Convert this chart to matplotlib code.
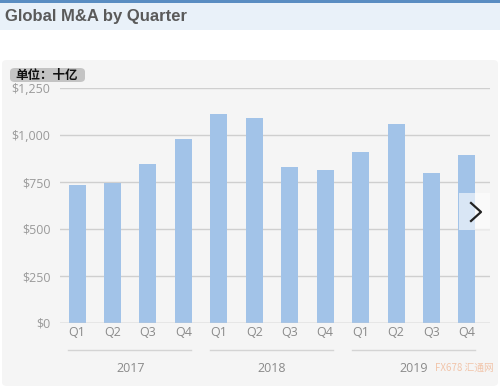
import matplotlib
matplotlib.use("Agg")
import matplotlib.pyplot as plt
from matplotlib.patches import Rectangle, FancyBboxPatch
from matplotlib.lines import Line2D

years = ["2017", "2018", "2019"]
quarters = ["Q1", "Q2", "Q3", "Q4"]
values = [734, 745, 846, 979, 1112, 1090, 830, 814, 910, 1059, 798, 894]
yticks = [0, 250, 500, 750, 1000, 1250]
ytick_labels = ["$0", "$250", "$500", "$750", "$1,000", "$1,250"]
title = "Global M&A by Quarter"
unit = "单位：十亿"

plt.rcParams['font.family'] = ['Open Sans', 'Noto Sans CJK SC', 'DejaVu Sans']

W, H = 500, 386
fig = plt.figure(figsize=(W / 100, H / 100), dpi=100)
fig.patch.set_facecolor("white")

def fx(px):
    return px / W

def fy(py):
    return 1 - py / H

# title band
fig.patches.append(Rectangle((0, fy(30)), 1, 30 / H, transform=fig.transFigure,
                             facecolor="#e9f1f9", edgecolor="none", zorder=-2))
fig.patches.append(Rectangle((0, fy(3)), 1, 3 / H, transform=fig.transFigure,
                             facecolor="#5a8dc2", edgecolor="none", zorder=-1))
fig.text(fx(5), fy(17), title, fontsize=12, fontweight="bold", color="#5a5a5a",
         family=["Liberation Sans", "DejaVu Sans"], va="center", ha="left")

# panel
fig.patches.append(FancyBboxPatch((fx(2), 0), 1 - fx(4), fy(60), boxstyle="round,pad=0,rounding_size=0.01",
                                  transform=fig.transFigure, facecolor="#f5f5f5",
                                  edgecolor="none", zorder=-2))

# unit label
fig.patches.append(FancyBboxPatch((fx(10), fy(82)), fx(75), 14 / H,
                                  boxstyle="round,pad=0,rounding_size=0.01",
                                  transform=fig.transFigure, facecolor="#c4c4c4",
                                  edgecolor="none", zorder=2))
fig.text(fx(15), fy(75), unit, fontsize=9, fontweight="bold", color="#111111",
         family=["Noto Sans CJK SC", "DejaVu Sans"], va="center", ha="left", zorder=3)

ax = fig.add_axes([fx(60), fy(323), fx(490) - fx(60), fy(88) - fy(323)])
ax.set_zorder(1)
ax.patch.set_visible(False)
x = list(range(len(values)))
ax.bar(x, values, width=0.48, color="#a2c3e8", zorder=2)
ax.set_xlim(-0.48, 11.65)
ax.set_ylim(0, 1250)
ax.set_yticks(yticks)
ax.set_yticklabels(ytick_labels)
ax.grid(axis="y", color="#cfcfcf", linewidth=1, zorder=1)
for s in ["top", "right", "left", "bottom"]:
    ax.spines[s].set_visible(False)
ax.axhline(0, color="#cccccc", linewidth=1, zorder=3)
ax.tick_params(axis="y", length=0, pad=7, labelsize=9, labelcolor="#9a9a9a")
ax.set_xticks(x)
ax.set_xticklabels(quarters * len(years))
ax.tick_params(axis="x", length=0, pad=2, labelsize=9, labelcolor="#8a8a8a")

# year groups
for i, yr in enumerate(years):
    c = i * 4 + 1.5
    ax.plot([c - 1.75, c + 1.72], [-145, -145], color="#d4d4d4", linewidth=1,
            clip_on=False, zorder=3)
    ax.text(c, -240, yr, ha="center", va="center", fontsize=9, color="#8a8a8a",
            clip_on=False)

# arrow button
fig.patches.append(Rectangle((fx(459), fy(230)), fx(31), 37 / H, transform=fig.transFigure,
                             facecolor="white", alpha=0.6, edgecolor="none", zorder=5))
fig.lines.append(Line2D([fx(471), fx(481), fx(471)], [fy(203), fy(212), fy(221)],
                        transform=fig.transFigure, color="#222222", linewidth=1.6,
                        zorder=6))

# watermark
fig.text(fx(494), fy(368), "FX678 汇通网", fontsize=7, color="#f0b08a", alpha=0.7,
         ha="right", va="center", family=["Noto Sans CJK SC", "DejaVu Sans"], zorder=6)

fig.savefig("out.png", dpi=100)
